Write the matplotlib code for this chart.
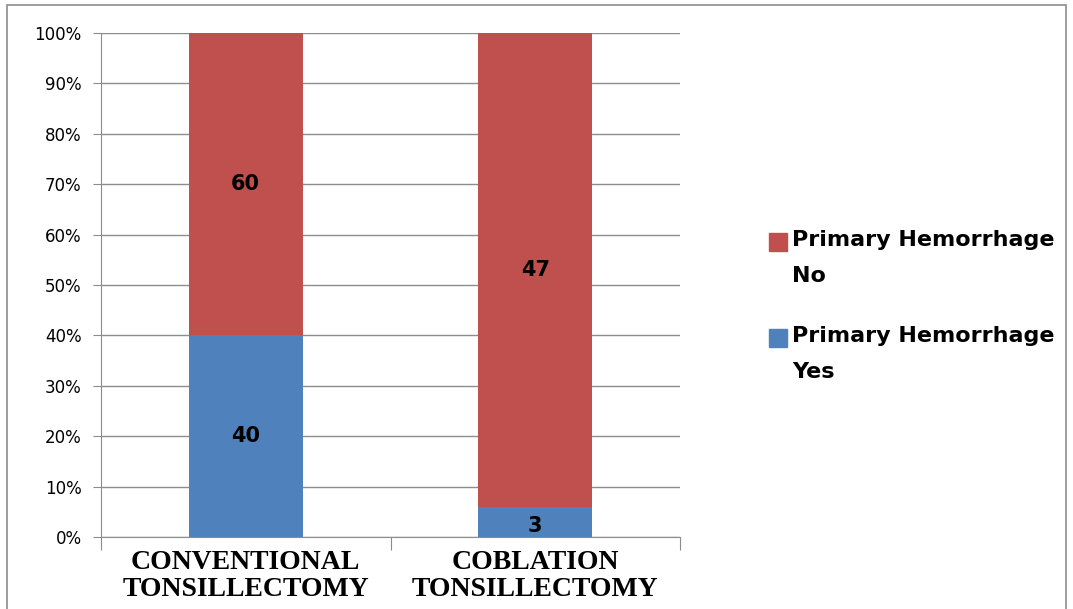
import matplotlib.pyplot as plt
from matplotlib.patches import Rectangle
import numpy as np

categories = ['CONVENTIONAL\nTONSILLECTOMY', 'COBLATION\nTONSILLECTOMY']
yes_counts = [40, 3]
no_counts = [60, 47]
series_names = ['Primary Hemorrhage\nNo', 'Primary Hemorrhage\nYes']

red = '#C0504D'
blue = '#4F81BD'
grid_col = '#8c8c8c'

yes = np.array(yes_counts, dtype=float)
no = np.array(no_counts, dtype=float)
tot = yes + no
yes_pct = yes / tot * 100
no_pct = no / tot * 100

fig = plt.figure(figsize=(10.73, 6.09), dpi=100)
ax = fig.add_axes([101/1073, 1-537/609, (680-101)/1073, (537-33)/609])

x = np.arange(len(categories))
w = 0.395
ax.bar(x, yes_pct, w, color=blue, zorder=3)
ax.bar(x, no_pct, w, bottom=yes_pct, color=red, zorder=3)

for i in range(len(x)):
    ax.text(x[i], yes_pct[i]/2 - (0.8 if yes_pct[i] < 10 else 0), str(yes_counts[i]),
            ha='center', va='center', fontsize=15, fontweight='bold', zorder=4)
    ax.text(x[i], yes_pct[i] + no_pct[i]/2, str(no_counts[i]),
            ha='center', va='center', fontsize=15, fontweight='bold', zorder=4)

ax.set_xlim(-0.5, 1.5)
ax.set_ylim(0, 100)
ax.set_yticks(range(0, 101, 10))
ax.set_yticklabels([f'{v}%' for v in range(0, 101, 10)], fontsize=12)
ax.yaxis.grid(True, color=grid_col, linewidth=1, zorder=0)
ax.tick_params(axis='y', length=6, color=grid_col, pad=8)
ax.set_xticks([-0.5, 0.5, 1.5])
ax.set_xticklabels([])
ax.tick_params(axis='x', length=9, color=grid_col)
for s in ['top', 'right']:
    ax.spines[s].set_visible(False)
for s in ['left', 'bottom']:
    ax.spines[s].set_color(grid_col)

for i, c in enumerate(categories):
    ax.text(x[i], -2.6, c, ha='center', va='top', fontsize=20, fontweight='bold',
            family='Liberation Serif', linespacing=1.08, clip_on=False)

# legend drawn by hand so the swatch sits on the first line
leg_colors = [red, blue]
leg_y = [242, 338]
for k in range(2):
    fig.patches.append(Rectangle((769/1073, 1-(leg_y[k]+9)/609), 18/1073, 18/609,
                                 transform=fig.transFigure, color=leg_colors[k]))
    fig.text(792/1073, 1-(leg_y[k]-12)/609, series_names[k], ha='left', va='top',
             fontsize=16, fontweight='bold', linespacing=2.0)

fig.patches.append(Rectangle((7/1073, -0.01), 1059/1073, 1-5/609+0.01,
                             transform=fig.transFigure, fill=False,
                             edgecolor='#8c8c8c', linewidth=1.2))

fig.savefig('out.png', dpi=100)
